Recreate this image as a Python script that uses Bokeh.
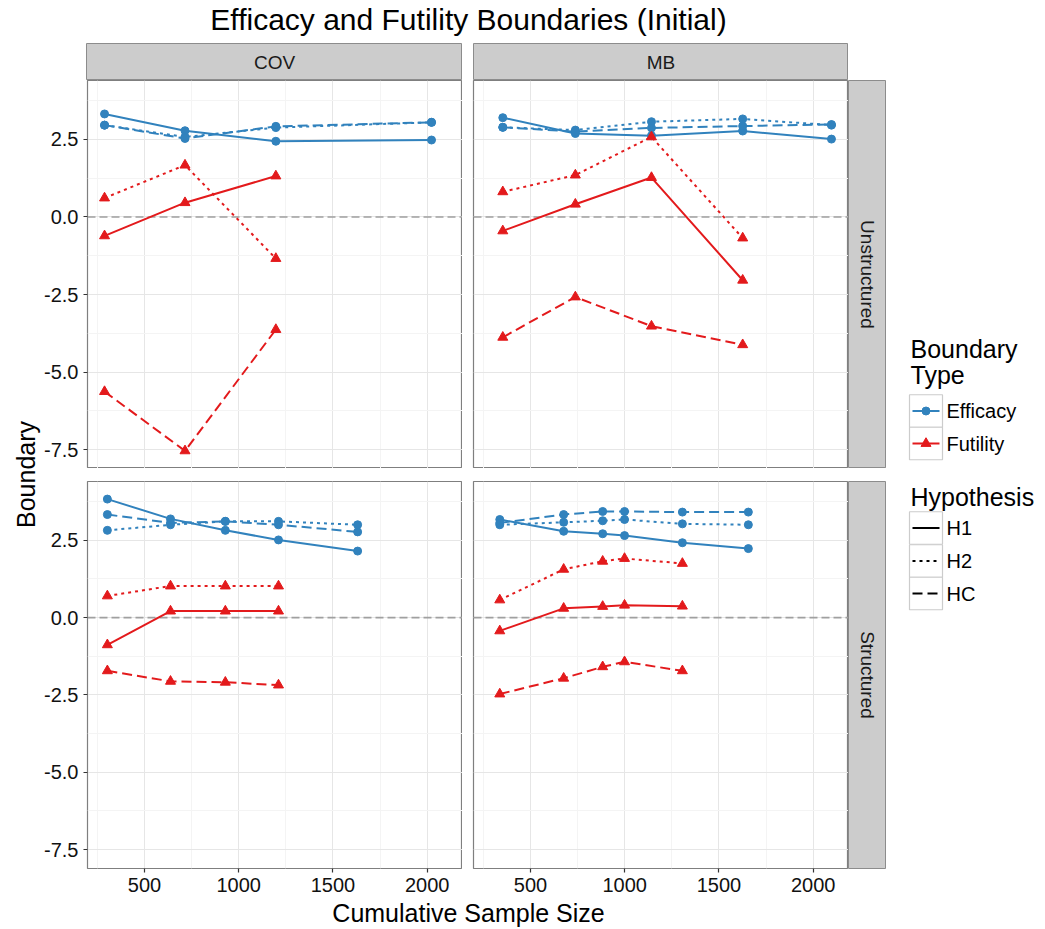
import math
from bokeh.plotting import figure
from bokeh.layouts import row, column
from bokeh.models import Range1d, LinearAxis, FixedTicker, Span, Grid, ColumnDataSource
from bokeh.core.properties import value
from bokeh.embed import file_html
from bokeh.resources import INLINE

# ---------------- data ----------------
methods = ["COV", "MB"]
structures = ["Unstructured", "Structured"]
hypotheses = ["H1", "H2", "HC"]
boundary_types = ["Efficacy", "Futility"]

x_ticks = [500, 1000, 1500, 2000]
x_minor = [250, 750, 1250, 1750]
y_ticks = [-7.5, -5.0, -2.5, 0.0, 2.5]
y_minor = [-6.25, -3.75, -1.25, 1.25, 3.75]
y_tick_labels = ["-7.5", "-5.0", "-2.5", "0.0", "2.5"]

# COV / Unstructured
cov_uns_n = [288, 715, 1197, 2023]
cov_uns_eff_h1 = [3.32, 2.78, 2.44, 2.48]
cov_uns_eff_h2 = [2.96, 2.58, 2.88, 3.05]
cov_uns_eff_hc = [2.96, 2.53, 2.92, 3.05]
cov_uns_fut_h1 = [-0.61, 0.46, 1.32]
cov_uns_fut_h2 = [0.61, 1.67, -1.34]
cov_uns_fut_hc = [-5.63, -7.54, -3.63]

# MB / Unstructured
mb_uns_n = [353, 738, 1142, 1626, 2097]
mb_uns_eff_h1 = [3.20, 2.69, 2.62, 2.77, 2.51]
mb_uns_eff_h2 = [2.89, 2.80, 3.07, 3.16, 2.96]
mb_uns_eff_hc = [2.89, 2.75, 2.87, 2.93, 2.98]
mb_uns_fut_h1 = [-0.45, 0.41, 1.27, -2.04]
mb_uns_fut_h2 = [0.81, 1.35, 2.58, -0.68]
mb_uns_fut_hc = [-3.88, -2.58, -3.52, -4.12]

# COV / Structured
cov_str_n = [303, 638, 929, 1211, 1631]
cov_str_eff_h1 = [3.83, 3.19, 2.82, 2.51, 2.15]
cov_str_eff_h2 = [2.82, 3.00, 3.11, 3.11, 3.00]
cov_str_eff_hc = [3.33, 3.06, 3.11, 3.00, 2.77]
cov_str_fut_h1 = [-0.88, 0.21, 0.21, 0.21]
cov_str_fut_h2 = [0.70, 1.02, 1.02, 1.02]
cov_str_fut_hc = [-1.72, -2.06, -2.09, -2.18]

# MB / Structured
mb_str_n = [337, 676, 883, 999, 1306, 1656]
mb_str_eff_h1 = [3.17, 2.79, 2.71, 2.65, 2.42, 2.23]
mb_str_eff_h2 = [3.00, 3.08, 3.13, 3.17, 3.03, 3.00]
mb_str_eff_hc = [3.06, 3.33, 3.43, 3.43, 3.41, 3.41]
mb_str_fut_h1 = [-0.43, 0.30, 0.36, 0.40, 0.37]
mb_str_fut_h2 = [0.57, 1.56, 1.82, 1.91, 1.75]
mb_str_fut_hc = [-2.47, -1.96, -1.59, -1.43, -1.72]

# ---------------- styling ----------------
FONT = "Liberation Sans"
COLORS = {"Efficacy": "#3182BD", "Futility": "#E31A1C"}
MARKERS = {"Efficacy": "circle", "Futility": "triangle"}
MSIZE = {"Efficacy": 8, "Futility": 10}
DASHES = {"H1": "solid", "H2": "3 4", "HC": "10 5"}

panels = {
    ("COV", "Unstructured"): (cov_uns_n,
        {"H1": cov_uns_eff_h1, "H2": cov_uns_eff_h2, "HC": cov_uns_eff_hc},
        {"H1": cov_uns_fut_h1, "H2": cov_uns_fut_h2, "HC": cov_uns_fut_hc}),
    ("MB", "Unstructured"): (mb_uns_n,
        {"H1": mb_uns_eff_h1, "H2": mb_uns_eff_h2, "HC": mb_uns_eff_hc},
        {"H1": mb_uns_fut_h1, "H2": mb_uns_fut_h2, "HC": mb_uns_fut_hc}),
    ("COV", "Structured"): (cov_str_n,
        {"H1": cov_str_eff_h1, "H2": cov_str_eff_h2, "HC": cov_str_eff_hc},
        {"H1": cov_str_fut_h1, "H2": cov_str_fut_h2, "HC": cov_str_fut_hc}),
    ("MB", "Structured"): (mb_str_n,
        {"H1": mb_str_eff_h1, "H2": mb_str_eff_h2, "HC": mb_str_eff_hc},
        {"H1": mb_str_fut_h1, "H2": mb_str_fut_h2, "HC": mb_str_fut_hc}),
}

all_x, all_y = [], []
for n, eff, fut in panels.values():
    all_x += n
    for h in hypotheses:
        all_y += eff[h] + fut[h]
xpad = 0.05 * (max(all_x) - min(all_x))
ypad = 0.05 * (max(all_y) - min(all_y))
XR = (min(all_x) - xpad, max(all_x) + xpad)
YR = (min(all_y) - ypad, max(all_y) + ypad)


def blank_fig(w, h, xr, yr, **kw):
    p = figure(width=w, height=h, x_range=Range1d(*xr), y_range=Range1d(*yr),
               x_axis_location=None, y_axis_location=None,
               toolbar_location=None, output_backend="svg",
               min_border_left=kw.get("bl", 0), min_border_right=kw.get("br", 0),
               min_border_top=kw.get("bt", 0), min_border_bottom=kw.get("bb", 0))
    p.center = [r for r in p.center if not isinstance(r, Grid)]
    p.outline_line_color = None
    p.background_fill_color = "white"
    p.border_fill_color = "white"
    return p


def make_panel(method, structure, left_axis, bottom_axis, bl, bt, bb, fw, fh):
    p = blank_fig(bl + fw, bt + fh + bb, XR, YR, bl=bl, bt=bt, bb=bb)
    p.outline_line_color = "#7F7F7F"
    p.outline_line_width = 1.2
    xg = Grid(dimension=0, ticker=FixedTicker(ticks=x_ticks, minor_ticks=x_minor),
              grid_line_color="#E6E6E6", grid_line_width=1,
              minor_grid_line_color="#F4F4F4", minor_grid_line_width=1)
    yg = Grid(dimension=1, ticker=FixedTicker(ticks=y_ticks, minor_ticks=y_minor),
              grid_line_color="#E6E6E6", grid_line_width=1,
              minor_grid_line_color="#F4F4F4", minor_grid_line_width=1)
    p.add_layout(xg)
    p.add_layout(yg)
    p.add_layout(Span(location=0, dimension="width", line_color="#A0A0A0",
                      line_dash="8 4", line_width=1.6, level="underlay"))
    if left_axis:
        ax = LinearAxis(ticker=FixedTicker(ticks=y_ticks),
                        major_label_overrides={t: s for t, s in zip(y_ticks, y_tick_labels)})
        p.add_layout(ax, "left")
    if bottom_axis:
        ax = LinearAxis(ticker=FixedTicker(ticks=x_ticks))
        p.add_layout(ax, "below")
    for ax in p.axis:
        ax.axis_line_color = None
        ax.major_tick_in = 0
        ax.major_tick_out = 4
        ax.major_tick_line_color = "#333333"
        ax.major_tick_line_width = 1.2
        ax.minor_tick_line_color = None
        ax.major_label_standoff = 5
        ax.major_label_text_font = FONT
        ax.major_label_text_font_size = "20px"
        ax.major_label_text_color = "#111111"

    n, eff, fut = panels[(method, structure)]
    for bt_name, vals in (("Efficacy", eff), ("Futility", fut)):
        for h in hypotheses:
            y = vals[h]
            src = ColumnDataSource(dict(n=n[:len(y)], b=y))
            p.line("n", "b", source=src, line_color=COLORS[bt_name], line_width=2,
                   line_dash=DASHES[h], line_join="round")
            p.scatter("n", "b", source=src, marker=MARKERS[bt_name], size=MSIZE[bt_name],
                      fill_color=COLORS[bt_name], line_color=COLORS[bt_name])
    return p


def make_strip(text, fw, fh, vertical, bl=0, bt=0, bb=0):
    p = blank_fig(bl + fw, bt + fh + bb, (0, 1), (0, 1), bl=bl, bt=bt, bb=bb)
    p.background_fill_color = "#CCCCCC"
    p.outline_line_color = "#8C8C8C"
    p.outline_line_width = 1
    p.text(x=[0.5], y=[0.5], text=[text], angle=(-math.pi / 2 if vertical else 0),
           text_align="center", text_baseline="middle", text_font=value(FONT),
           text_font_size="19px", text_color="#1A1A1A")
    return p


# geometry (px), layout origin is the page's top-left corner
TITLE_H = 43
YLW = 41         # y label column width
BL = 45          # left border for y tick labels
GAP = 11         # gap between panel columns
VGAP = 13        # gap between panel rows
FW1, FW2 = 376, 375
FH1, FH2 = 388, 387
SW = 38          # right strip width
SH = 37          # top strip height
BB = 29          # bottom border for x tick labels
XLH = 31         # x label row height
MID_W = BL + FW1 + GAP + FW2
LEG_W = 158
MAIN_H = SH + FH1 + VGAP + FH2 + BB + XLH
TOTAL_W = YLW + MID_W + SW + LEG_W

# title
title_fig = blank_fig(TOTAL_W, TITLE_H, (0, TOTAL_W), (TITLE_H, 0))
title_fig.text(x=[468], y=[18.5], text=["Efficacy and Futility Boundaries (Initial)"],
               text_align="center", text_baseline="middle", text_font=value(FONT),
               text_font_size="30px", text_color="black")

# strips
strip_cov = make_strip("COV", FW1, SH, False, bl=BL)
strip_mb = make_strip("MB", FW2, SH, False, bl=GAP)

tl = make_panel("COV", "Unstructured", True, False, BL, 0, 0, FW1, FH1)
tr = make_panel("MB", "Unstructured", False, False, GAP, 0, 0, FW2, FH1)
strip_u = make_strip("Unstructured", SW, FH1, True)

bl_ = make_panel("COV", "Structured", True, True, BL, VGAP, BB, FW1, FH2)
br_ = make_panel("MB", "Structured", False, True, GAP, VGAP, BB, FW2, FH2)
strip_s = make_strip("Structured", SW, FH2, True, bt=VGAP, bb=BB)

xlab_fig = blank_fig(MID_W, XLH, (0, MID_W), (XLH, 0))
xlab_fig.text(x=[468 - YLW], y=[15], text=["Cumulative Sample Size"], text_align="center",
              text_baseline="middle", text_font=value(FONT), text_font_size="25px",
              text_color="black")

ylab_fig = blank_fig(YLW, MAIN_H, (0, YLW), (MAIN_H, 0))
ylab_fig.text(x=[25], y=[474 - TITLE_H], text=["Boundary"], angle=math.pi / 2,
              text_align="center", text_baseline="middle", text_font=value(FONT),
              text_font_size="25px", text_color="black")

# legend (local coords: x - 886, y - 43)
leg = blank_fig(LEG_W, MAIN_H, (0, LEG_W), (MAIN_H, 0))
tkw = dict(text_font=value(FONT), text_color="black", text_align="left",
           text_baseline="middle")
leg.text(x=[24, 24], y=[305, 331], text=["Boundary", "Type"], text_font_size="25px", **tkw)
key_cy1 = [367.5, 400.0]
leg.rect(x=[39.5, 39.5], y=key_cy1, width=33, height=32.5, fill_color="white",
         line_color="#CCCCCC", line_width=1.2)
for cy, bname in zip(key_cy1, boundary_types):
    leg.segment(x0=[26], y0=[cy], x1=[53], y1=[cy], line_color=COLORS[bname], line_width=2)
    leg.scatter(x=[39.5], y=[cy], marker=MARKERS[bname], size=MSIZE[bname],
                fill_color=COLORS[bname], line_color=COLORS[bname])
leg.text(x=[60, 60], y=key_cy1, text=boundary_types, text_font_size="20px", **tkw)

leg.text(x=[24], y=[453], text=["Hypothesis"], text_font_size="25px", **tkw)
key_cy2 = [484.5, 517.5, 550.0]
leg.rect(x=[39.5] * 3, y=key_cy2, width=33, height=32.5, fill_color="white",
         line_color="#CCCCCC", line_width=1.2)
for cy, h in zip(key_cy2, hypotheses):
    leg.segment(x0=[26], y0=[cy], x1=[53], y1=[cy], line_color="black", line_width=2,
                line_dash=DASHES[h])
leg.text(x=[60] * 3, y=key_cy2, text=hypotheses, text_font_size="20px", **tkw)

mid = column(row(strip_cov, strip_mb), row(tl, tr, strip_u), row(bl_, br_, strip_s), xlab_fig)
page = column(title_fig, row(ylab_fig, mid, leg))

open("out.html", "w").write(file_html(page, INLINE))
